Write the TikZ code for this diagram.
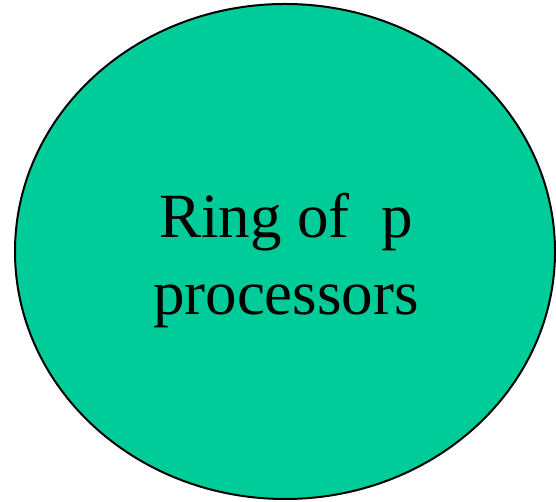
\documentclass[tikz,border=0pt]{standalone}
\usepackage{fontspec}
\setmainfont{Liberation Serif}
\usetikzlibrary{shapes.geometric}
\definecolor{ringgreen}{HTML}{00CC99}

\begin{document}
\begin{tikzpicture}[x=1pt, y=1pt]
    \useasboundingbox (0,0) rectangle (556,502);
    % Ring node
    \node [ellipse, draw, line width=2pt, fill=ringgreen,
           minimum width=540pt, minimum height=495pt, inner sep=0pt] (ring) at (285,250.5) {};
    \node [align=center, anchor=base, font=\fontsize{63}{77}\selectfont] (label) at (286,187) {Ring of\ \ p\\processors};
\end{tikzpicture}
\end{document}
